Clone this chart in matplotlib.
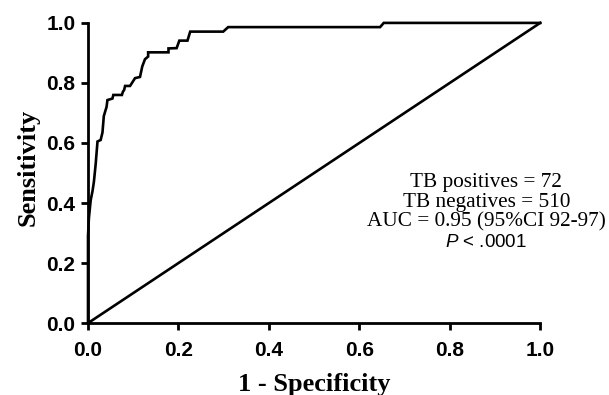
import matplotlib.pyplot as plt

plt.rcParams['mathtext.fontset'] = 'custom'
plt.rcParams['mathtext.it'] = 'Liberation Sans:italic'
plt.rcParams['mathtext.rm'] = 'Liberation Sans'

# ROC curve points (1 - specificity, sensitivity)
fpr = [0.0, 0.0, 0.002, 0.004, 0.006, 0.010, 0.013, 0.017, 0.021, 0.028,
       0.032, 0.035, 0.041, 0.043, 0.054, 0.056, 0.075, 0.077, 0.080, 0.082,
       0.093, 0.104, 0.115, 0.120, 0.126, 0.133, 0.133, 0.178, 0.178, 0.196,
       0.202, 0.220, 0.226, 0.299, 0.310, 0.646, 0.654, 1.0]
tpr = [0.0, 0.29, 0.35, 0.38, 0.41, 0.44, 0.47, 0.53, 0.605, 0.61,
       0.635, 0.69, 0.72, 0.743, 0.748, 0.76, 0.76, 0.77, 0.777, 0.79,
       0.79, 0.816, 0.82, 0.855, 0.879, 0.888, 0.902, 0.902, 0.915, 0.916,
       0.941, 0.941, 0.971, 0.971, 0.986, 0.986, 1.0, 1.0]

ref_x = [0, 1]
ref_y = [0, 1]

notes = ['TB positives = 72', 'TB negatives = 510', 'AUC = 0.95 (95%CI 92-97)']

fig = plt.figure(figsize=(6.09, 3.95), dpi=100)
ax = fig.add_axes([0.1445, 0.182, 0.7425, 0.76])

ax.plot(fpr, tpr, color='black', lw=1.9, clip_on=False, solid_joinstyle='miter')
ax.plot(ref_x, ref_y, color='black', lw=1.9, clip_on=False)

ax.set_xlim(0, 1)
ax.set_ylim(0, 1)
ax.set_xticks([0, 0.2, 0.4, 0.6, 0.8, 1.0])
ax.set_yticks([0, 0.2, 0.4, 0.6, 0.8, 1.0])
ax.xaxis.set_major_formatter(plt.FormatStrFormatter('%.1f'))
ax.yaxis.set_major_formatter(plt.FormatStrFormatter('%.1f'))

for s in ['top', 'right']:
    ax.spines[s].set_visible(False)
for s in ['left', 'bottom']:
    ax.spines[s].set_linewidth(2)

ax.tick_params(direction='out', length=5, width=2, pad=4)
ax.tick_params(axis='x', pad=8)
for lab in ax.get_xticklabels() + ax.get_yticklabels():
    lab.set_fontfamily('Liberation Sans')
    lab.set_fontweight('bold')
    lab.set_fontsize(15)

ax.set_xlabel('1 - Specificity', family='Liberation Serif', weight='bold',
              fontsize=19, labelpad=9)
ax.set_ylabel('Sensitivity', family='Liberation Serif', weight='bold',
              fontsize=19)
ax.yaxis.set_label_coords(-0.108, 0.52)

for i, t in enumerate(notes):
    ax.text(0.881, 0.467 - 0.065 * i, t, family='Liberation Serif',
            fontsize=15.3, ha='center', va='center')
ax.text(0.881, 0.27, '$P$ < .0001', family='Liberation Sans',
        fontsize=13.5, ha='center', va='center')

fig.savefig('out.png', dpi=100)
